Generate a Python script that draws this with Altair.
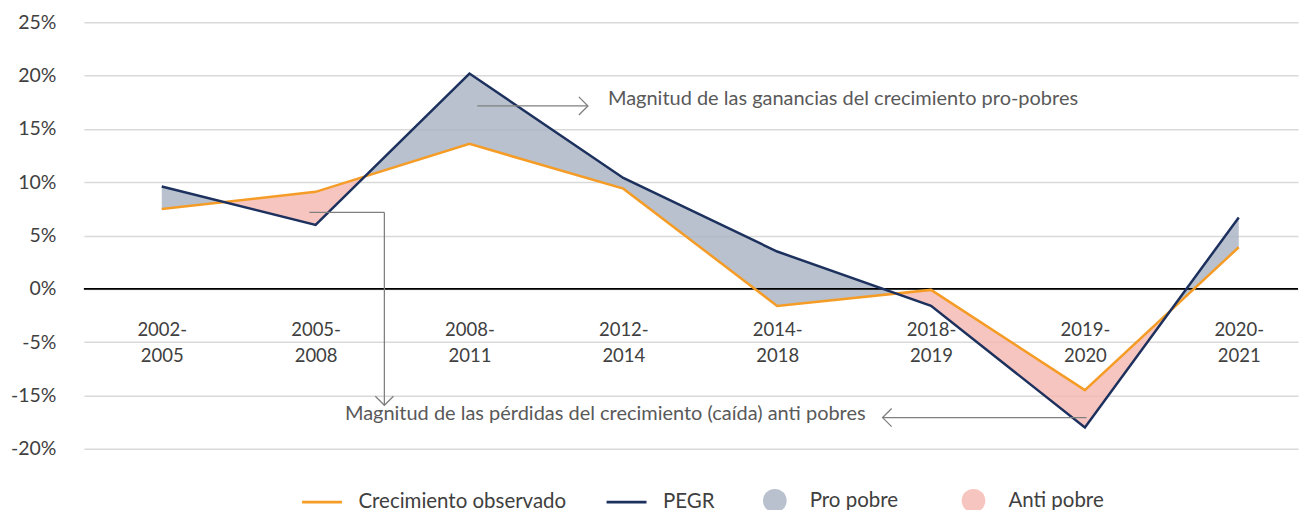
import altair as alt
import pandas as pd

# ---------------- data ----------------
categories = ["2002-2005", "2005-2008", "2008-2011", "2012-2014",
              "2014-2018", "2018-2019", "2019-2020", "2020-2021"]
observado = [7.5, 9.1, 13.6, 9.4, -1.6, -0.1, -9.5, 3.9]
pegr = [9.6, 6.0, 20.2, 10.4, 3.5, -1.6, -13.0, 6.7]

ytick_values = [25, 20, 15, 10, 5, 0, -5, -10, -15]
ytick_labels = ["25%", "20%", "15%", "10%", "5%", "0%", "-5%", "-15%", "-20%"]

series_names = ["Crecimiento observado", "PEGR"]
series_colors = ["#F59C26", "#1D315E"]
fill_names = ["Pro pobre", "Anti pobre"]
fill_colors = ["#A8B2C2", "#F5B6AF"]

ann_texts = ["Magnitud de las ganancias del crecimiento pro-pobres",
             "Magnitud de las pérdidas del crecimiento (caída) anti pobres"]

FONT = "Lato"
TXT = "#404040"
ANN = "#7f7f7f"

# ---------------- tables ----------------
n = len(categories)
lines_df = pd.DataFrame(
    [{"x": i, "value": observado[i], "series": series_names[0]} for i in range(n)]
    + [{"x": i, "value": pegr[i], "series": series_names[1]} for i in range(n)]
)

def kind(d):
    return fill_names[0] if d >= 0 else fill_names[1]

rows = []
seg = 0
cur = kind(pegr[0] - observado[0])
rows.append(dict(x=0.0, lo=observado[0], hi=pegr[0], seg=seg, kind=cur))
for i in range(n - 1):
    d0 = pegr[i] - observado[i]
    d1 = pegr[i + 1] - observado[i + 1]
    if d0 * d1 < 0:
        t = d0 / (d0 - d1)
        xc = i + t
        yc = observado[i] + t * (observado[i + 1] - observado[i])
        rows.append(dict(x=xc, lo=yc, hi=yc, seg=seg, kind=cur))
        seg += 1
        cur = kind(d1)
        rows.append(dict(x=xc, lo=yc, hi=yc, seg=seg, kind=cur))
    rows.append(dict(x=float(i + 1), lo=observado[i + 1], hi=pegr[i + 1], seg=seg, kind=cur))
area_df = pd.DataFrame(rows)
area_df["seg"] = area_df["seg"].map(lambda s: "s%d" % s)

# annotation arrows (data units: x = period index, y = axis units)
seg_df = pd.DataFrame([
    {"x": 2.05, "x2": 2.77, "y": 17.16, "y2": 17.16},
    {"x": 0.96, "x2": 1.447, "y": 7.17, "y2": 7.17},
    {"x": 1.447, "x2": 1.447, "y": 7.17, "y2": -10.93},
    {"x": 6.01, "x2": 4.685, "y": -12.08, "y2": -12.08},
])
head_df = pd.DataFrame([
    {"x": 2.77, "y": 17.16, "angle": 0},
    {"x": 1.447, "y": -10.93, "angle": 90},
    {"x": 4.685, "y": -12.08, "angle": 180},
])
txt_left = pd.DataFrame([{"x": 2.90, "y": 17.8, "text": ann_texts[0]}])
txt_right = pd.DataFrame([{"x": 4.575, "y": -11.7, "text": ann_texts[1]}])
zero_df = pd.DataFrame({"y": [0]})

# ---------------- scales & axes ----------------
xlab_expr = "[" + ",".join(
    "['%s-','%s']" % tuple(c.split("-")) for c in categories) + "][datum.value]"
ylab_expr = "[" + ",".join("'%s'" % s for s in ytick_labels) + "][indexof([" + \
    ",".join(str(v) for v in ytick_values) + "], datum.value)]"

xscale = alt.Scale(domain=[-0.506, 7.385], nice=False, zero=False)
yscale = alt.Scale(domain=[-15, 25], nice=False, zero=False)
xaxis = alt.Axis(values=list(range(n)), labelExpr=xlab_expr, orient="bottom",
                 offset=-128, domain=False, ticks=False, grid=False,
                 labelPadding=0, labelFontSize=18.5, labelLineHeight=26,
                 labelColor=TXT, labelFont=FONT, labelOverlap=False,
                 labelFlush=False, title=None)
yaxis = alt.Axis(values=ytick_values, labelExpr=ylab_expr, grid=True,
                 gridColor="#d9d9d9", gridWidth=1.5, domain=False, ticks=False,
                 labelPadding=28, labelFontSize=19.5, labelColor=TXT,
                 labelFont=FONT, title=None)

def X(f="x"):
    return alt.X(f"{f}:Q", scale=xscale, axis=xaxis)

def Y(f):
    return alt.Y(f"{f}:Q", scale=yscale, axis=yaxis)

# ---------------- layers ----------------
areas = alt.Chart(area_df).mark_area(opacity=0.8).encode(
    x=X(), y=Y("lo"), y2=alt.Y2("hi:Q"), detail="seg:N",
    fill=alt.Fill("kind:N", scale=alt.Scale(domain=fill_names, range=fill_colors),
                  legend=alt.Legend(orient="none", legendX=680, legendY=467,
                                    direction="horizontal", symbolType="circle",
                                    symbolSize=560, symbolOpacity=0.8,
                                    symbolStrokeWidth=0, labelFontSize=20.5,
                                    labelFont=FONT, labelColor=TXT, labelLimit=0,
                                    labelOffset=23, columnPadding=63,
                                    padding=0, title=None)),
)

zero = alt.Chart(zero_df).mark_rule(color="#000000", strokeWidth=1.8).encode(y=Y("y"))

lines = alt.Chart(lines_df).mark_line(strokeWidth=2.5).encode(
    x=X(), y=Y("value"),
    stroke=alt.Stroke("series:N",
                      scale=alt.Scale(domain=series_names, range=series_colors),
                      legend=alt.Legend(orient="none", legendX=217, legendY=459,
                                        direction="horizontal", symbolType="stroke",
                                        symbolSize=1600, symbolStrokeWidth=3,
                                        labelFontSize=20.5, labelFont=FONT,
                                        labelColor=TXT, labelOffset=15, labelLimit=0,
                                        columnPadding=33, padding=0, title=None)),
)

shafts = alt.Chart(seg_df).mark_rule(color=ANN, strokeWidth=1.3).encode(
    x=X(), x2="x2", y=Y("y"), y2="y2")

chevron = "M-1,-1L0,0L-1,1"
heads = alt.Chart(head_df).mark_point(shape=chevron, filled=False, size=330,
                                      strokeWidth=1.3, color=ANN, opacity=1).encode(
    x=X(), y=Y("y"), angle=alt.Angle("angle:Q", scale=None))

t1 = alt.Chart(txt_left).mark_text(align="left", baseline="middle", fontSize=20,
                                   font=FONT, color="#595959").encode(
    x=X(), y=Y("y"), text="text:N")
t2 = alt.Chart(txt_right).mark_text(align="right", baseline="middle", fontSize=20,
                                    font=FONT, color="#595959").encode(
    x=X(), y=Y("y"), text="text:N")

chart = alt.layer(areas, zero, lines, shafts, heads, t1, t2).properties(
    width=1216, height=427,
    padding={"left": 2, "top": 4, "right": 0, "bottom": 0},
).configure(font=FONT).configure_view(stroke=None)

chart.save("out.html", embed_options={"renderer": "svg", "actions": False})
